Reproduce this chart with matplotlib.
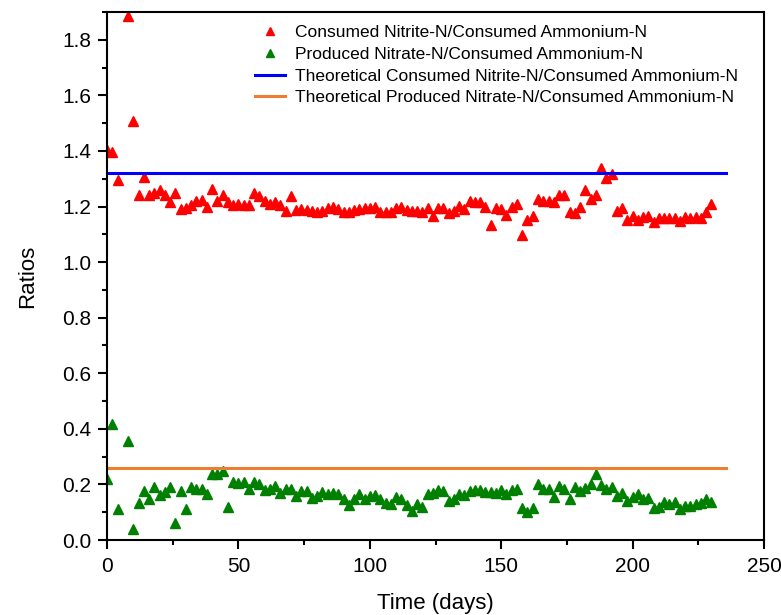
import matplotlib.pyplot as plt
from matplotlib.ticker import MultipleLocator

plt.rcParams['font.family'] = ['Liberation Sans', 'DejaVu Sans']

days = [0, 2, 4] + list(range(8, 232, 2))

nitrite_ratio = [
    1.405, 1.395, 1.294, 1.885, 1.508, 1.240, 1.306, 1.240, 1.248, 1.258,
    1.243, 1.215, 1.248, 1.191, 1.195, 1.204, 1.219, 1.222, 1.200, 1.263,
    1.221, 1.240, 1.215, 1.204, 1.209, 1.207, 1.207, 1.248, 1.239, 1.219,
    1.210, 1.216, 1.207, 1.183, 1.239, 1.186, 1.190, 1.189, 1.183, 1.179,
    1.185, 1.195, 1.200, 1.192, 1.180, 1.179, 1.189, 1.191, 1.196, 1.195,
    1.197, 1.180, 1.180, 1.179, 1.194, 1.197, 1.186, 1.183, 1.185, 1.179,
    1.195, 1.165, 1.195, 1.195, 1.177, 1.183, 1.203, 1.191, 1.219, 1.215,
    1.217, 1.200, 1.135, 1.194, 1.191, 1.171, 1.200, 1.209, 1.099, 1.153,
    1.167, 1.226, 1.221, 1.221, 1.216, 1.240, 1.240, 1.179, 1.177, 1.197,
    1.261, 1.227, 1.243, 1.338, 1.302, 1.318, 1.183, 1.195, 1.153, 1.167,
    1.153, 1.161, 1.167, 1.143, 1.157, 1.159, 1.157, 1.157, 1.149, 1.161,
    1.157, 1.163, 1.157, 1.180, 1.209,
]

nitrate_ratio = [
    0.219, 0.416, 0.110, 0.355, 0.038, 0.134, 0.178, 0.146, 0.189, 0.162,
    0.171, 0.191, 0.062, 0.178, 0.110, 0.189, 0.185, 0.182, 0.165, 0.237,
    0.237, 0.248, 0.118, 0.208, 0.205, 0.209, 0.185, 0.207, 0.201, 0.179,
    0.185, 0.194, 0.170, 0.185, 0.182, 0.159, 0.177, 0.175, 0.151, 0.160,
    0.173, 0.165, 0.170, 0.167, 0.146, 0.126, 0.146, 0.167, 0.146, 0.158,
    0.161, 0.146, 0.134, 0.131, 0.153, 0.149, 0.125, 0.105, 0.131, 0.119,
    0.167, 0.170, 0.179, 0.176, 0.140, 0.146, 0.164, 0.161, 0.177, 0.179,
    0.179, 0.173, 0.172, 0.170, 0.179, 0.165, 0.179, 0.184, 0.114, 0.100,
    0.116, 0.203, 0.184, 0.182, 0.155, 0.194, 0.185, 0.149, 0.191, 0.177,
    0.188, 0.200, 0.237, 0.197, 0.182, 0.191, 0.159, 0.170, 0.141, 0.155,
    0.165, 0.149, 0.152, 0.114, 0.119, 0.137, 0.131, 0.135, 0.110, 0.124,
    0.122, 0.128, 0.134, 0.146, 0.137,
]

theory_x = [0, 235.5]
theory_nitrite = 1.32
theory_nitrate = 0.26

fig = plt.figure(figsize=(7.81, 6.15), dpi=100)
ax = fig.add_axes([107/781, 1 - 540/615, 657/781, 528/615])

ax.plot(days, nitrite_ratio, '^', color='red', markersize=6.5, linestyle='none',
        label="Consumed Nitrite-N/Consumed Ammonium-N")
ax.plot(days, nitrate_ratio, '^', color='green', markersize=6.5, linestyle='none',
        label="Produced Nitrate-N/Consumed Ammonium-N")
ax.plot(theory_x, [theory_nitrite] * 2, color='blue', lw=2.2,
        label="Theoretical Consumed Nitrite-N/Consumed Ammonium-N")
ax.plot(theory_x, [theory_nitrate] * 2, color='#ED7D31', lw=2.2,
        label="Theoretical Produced Nitrate-N/Consumed Ammonium-N")

ax.set_xlim(0, 250)
ax.set_ylim(0, 1.9)
ax.xaxis.set_major_locator(MultipleLocator(50))
ax.xaxis.set_minor_locator(MultipleLocator(25))
ax.yaxis.set_major_locator(MultipleLocator(0.2))
ax.yaxis.set_minor_locator(MultipleLocator(0.1))
ax.yaxis.set_major_formatter(plt.FormatStrFormatter('%.1f'))
ax.tick_params(which='major', direction='out', length=6.5, width=1.5, labelsize=15)
ax.tick_params(which='minor', direction='out', length=3.5, width=1.5)
ax.tick_params(axis='x', which='major', pad=6)
ax.tick_params(axis='y', which='major', pad=5)
for s in ax.spines.values():
    s.set_linewidth(1.5)

ax.set_xlabel("Time (days)", fontsize=16, labelpad=12)
ax.set_ylabel("Ratios", fontsize=16, labelpad=17)

ax.legend(loc='upper left', bbox_to_anchor=(255/781, 1 - 25/615),
          bbox_transform=fig.transFigure, frameon=False,
          fontsize=12.5, handlelength=1.7, handletextpad=0.6,
          labelspacing=0.38, borderpad=0, borderaxespad=0, markerscale=0.8)

plt.savefig("out.png", dpi=100)
plt.close()
